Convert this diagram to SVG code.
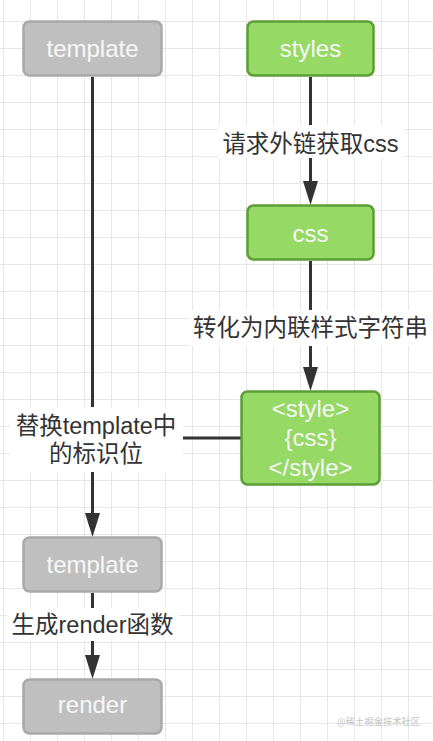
<svg xmlns="http://www.w3.org/2000/svg" width="433" height="741" viewBox="0 0 433 741">
  <defs>
    <pattern id="grid" x="3" y="21" width="27" height="27" patternUnits="userSpaceOnUse">
      <path d="M0.5 0 V27 M0 0.5 H27" fill="none" stroke="#e6e6e6" stroke-width="1"/>
    </pattern>
    <marker id="arrow" markerUnits="userSpaceOnUse" markerWidth="24" markerHeight="15" refX="14" refY="7.5" orient="auto">
      <path d="M0 0 L24 7.5 L0 15 Z" fill="#333333"/>
    </marker>
    <style>
      .gray rect { fill: #bfbfbf; stroke: #a9a9a9; stroke-width: 2.5; }
      .green rect { fill: #96d964; stroke: #5b9f35; stroke-width: 2.5; }
      .ntext { font-family: "Liberation Sans", "Noto Sans CJK SC", sans-serif; font-size: 24px; fill: #f7f7f7; text-anchor: middle; }
      .conn { stroke: #333333; stroke-width: 3; fill: none; }
      .lbg { fill: #ffffff; }
      .ltext { font-family: "Liberation Sans", "Noto Sans CJK SC", sans-serif; font-size: 23.5px; fill: #333333; text-anchor: middle; }
      .wm { font-family: "Noto Sans CJK SC", sans-serif; font-size: 9.3px; fill: #c4c4c4; }
    </style>
  </defs>
  <rect width="433" height="741" fill="#ffffff"/>
  <rect width="433" height="741" fill="url(#grid)"/>

  <g id="connectors">
    <line class="conn" x1="310.5" y1="77" x2="310.5" y2="195" marker-end="url(#arrow)"/>
    <line class="conn" x1="310.5" y1="261" x2="310.5" y2="381" marker-end="url(#arrow)"/>
    <line class="conn" x1="92.5" y1="77" x2="92.5" y2="527" marker-end="url(#arrow)"/>
    <line class="conn" x1="241" y1="438" x2="92.5" y2="438"/>
    <line class="conn" x1="92.5" y1="593" x2="92.5" y2="669" marker-end="url(#arrow)"/>

    <g id="label-fetch">
      <rect class="lbg" x="218" y="125" width="186" height="33"/>
      <text class="ltext" x="310.5" y="152">请求外链获取css</text>
    </g>
    <g id="label-inline">
      <rect class="lbg" x="190" y="310" width="242" height="36"/>
      <text class="ltext" x="310.5" y="336">转化为内联样式字符串</text>
    </g>
    <g id="label-replace">
      <rect class="lbg" x="10" y="407" width="173" height="65"/>
      <text class="ltext" x="96" y="434">替换template中</text>
      <text class="ltext" x="96" y="462">的标识位</text>
    </g>
    <g id="label-render">
      <rect class="lbg" x="7" y="608" width="172" height="33"/>
      <text class="ltext" x="92.5" y="633">生成render函数</text>
    </g>
  </g>

  <g id="node-template" class="gray">
    <rect x="23.5" y="21.5" width="138" height="54" rx="6"/>
    <text class="ntext" x="92.5" y="57">template</text>
  </g>
  <g id="node-styles" class="green">
    <rect x="247.5" y="21.5" width="126" height="54" rx="6"/>
    <text class="ntext" x="310.5" y="57">styles</text>
  </g>
  <g id="node-css" class="green">
    <rect x="247.5" y="205.5" width="126" height="54" rx="6"/>
    <text class="ntext" x="310.5" y="242">css</text>
  </g>
  <g id="node-style-tag" class="green">
    <rect x="241.5" y="391.5" width="138" height="93" rx="6"/>
    <text class="ntext" x="310.5" y="417">&lt;style&gt;</text>
    <text class="ntext" x="310.5" y="446">{css}</text>
    <text class="ntext" x="310.5" y="476">&lt;/style&gt;</text>
  </g>
  <g id="node-template2" class="gray">
    <rect x="23.5" y="537.5" width="138" height="54" rx="6"/>
    <text class="ntext" x="92.5" y="573">template</text>
  </g>
  <g id="node-render" class="gray">
    <rect x="23.5" y="679.5" width="138" height="54" rx="6"/>
    <text class="ntext" x="92.5" y="713">render</text>
  </g>

  <text class="wm" x="337" y="725">@稀土掘金技术社区</text>
</svg>
